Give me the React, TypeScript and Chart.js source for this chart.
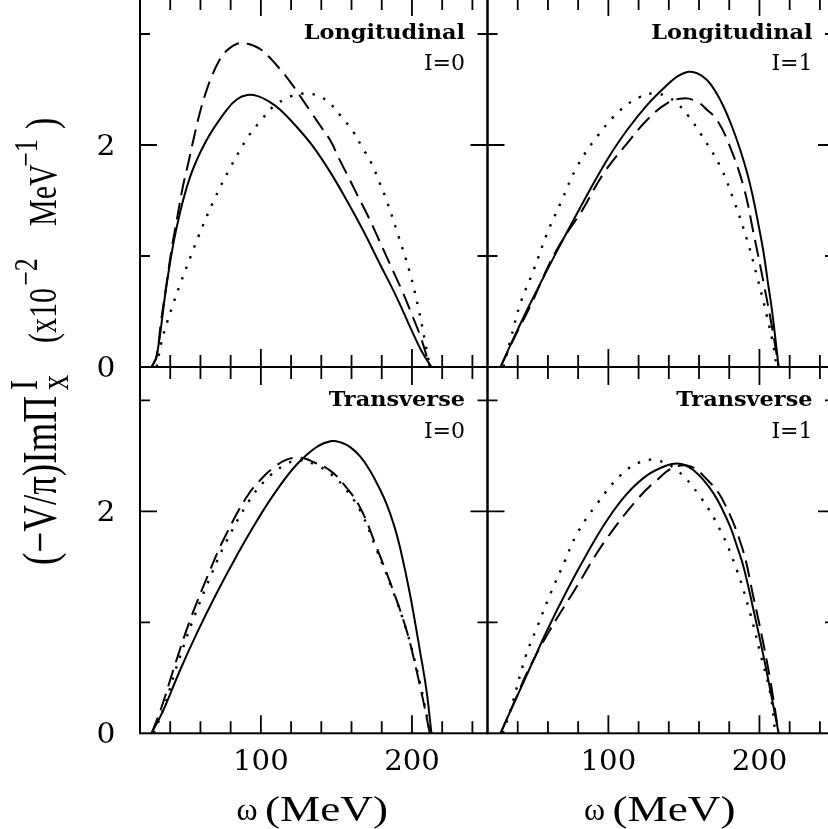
import React, { useEffect, useRef } from 'react';
import { Chart, registerables } from 'chart.js';
Chart.register(...registerables);

// ---------- data: omega (MeV) and (-V/pi) Im Pi (x10^-2 MeV^-1) ----------
// Longitudinal, I=0
const L0_SOLID_W = [27.7, 31, 37.7, 44.3, 53.1, 64.1, 77.3, 84, 91, 98, 105, 112.6, 123.6, 134.6, 145.7, 156.7, 167.7, 178.7, 189.8, 200.8, 206.5, 212.9];
const L0_SOLID_V = [0, 0.093, 0.75, 1.26, 1.71, 2.045, 2.315, 2.41, 2.45, 2.44, 2.395, 2.32, 2.165, 1.985, 1.76, 1.505, 1.23, 0.93, 0.63, 0.3, 0.14, 0];
const L0_DASH_W = [27.7, 31, 34, 37.7, 41, 44.3, 48, 52, 56, 60, 64, 68, 72, 76, 80, 84, 88, 92, 96, 100, 105, 110, 116, 122, 128, 134, 140, 146, 152, 158, 164, 170, 176, 182, 188, 194, 200, 206, 211.8];
const L0_DASH_V = [0, 0.1, 0.42, 0.76, 1.07, 1.32, 1.6, 1.84, 2.085, 2.31, 2.49, 2.635, 2.75, 2.83, 2.88, 2.91, 2.92, 2.91, 2.89, 2.86, 2.8, 2.725, 2.63, 2.52, 2.4, 2.28, 2.16, 2.04, 1.87, 1.71, 1.545, 1.385, 1.21, 1.03, 0.85, 0.67, 0.47, 0.26, 0];
const L0_DOT_W = [31, 34.3, 37.6, 42, 46.4, 54.2, 58.5, 68.5, 79.5, 91.6, 100, 108.2, 119.2, 126, 133.5, 140, 145.7, 153, 161.1, 167, 173.2, 178, 183.1, 190.8, 198.6, 204.1, 208.5, 211.8];
const L0_DOT_V = [0, 0.23, 0.39, 0.57, 0.74, 1.02, 1.17, 1.49, 1.79, 2.075, 2.22, 2.345, 2.435, 2.46, 2.46, 2.43, 2.375, 2.26, 2.12, 1.98, 1.835, 1.68, 1.505, 1.19, 0.85, 0.54, 0.24, 0];

// Longitudinal, I=1
const L1_SOLID_W = [28.6, 38, 48.4, 63.9, 81.5, 99.1, 112.4, 125.6, 138.8, 146, 153.2, 159, 165.3, 171, 176.3, 182, 187.3, 192, 196.1, 199.5, 202.8, 205.5, 208.3, 212.7];
const L1_SOLID_V = [0, 0.28, 0.574, 0.99, 1.44, 1.865, 2.135, 2.36, 2.54, 2.62, 2.66, 2.645, 2.585, 2.48, 2.345, 2.16, 1.955, 1.74, 1.505, 1.27, 1.025, 0.77, 0.51, 0];
const L1_DASH_W = [28.6, 38, 48.4, 61.7, 72.7, 81.5, 96.9, 112.4, 125.6, 138.8, 149.8, 158.7, 165, 171.9, 179.6, 189.5, 196.1, 202.8, 208.3, 212.7];
const L1_DASH_V = [0, 0.27, 0.55, 0.95, 1.21, 1.385, 1.745, 2.015, 2.225, 2.375, 2.42, 2.39, 2.32, 2.225, 2.015, 1.625, 1.205, 0.755, 0.36, 0];
const L1_DOT_W = [30.5, 35.2, 41.8, 50.6, 59.5, 68.3, 79.3, 92.5, 108, 121.2, 130, 138, 145.5, 153, 160.9, 174.1, 182.9, 191.8, 198.4, 205, 209.4, 211.3];
const L1_DOT_V = [0, 0.245, 0.574, 0.875, 1.205, 1.475, 1.805, 2.075, 2.315, 2.435, 2.465, 2.44, 2.375, 2.26, 2.105, 1.805, 1.505, 1.145, 0.815, 0.455, 0.18, 0];

// Transverse, I=0
const T0_SOLID_W = [27.7, 35.4, 46.5, 57.5, 70.7, 83.9, 97.2, 110.4, 123.6, 136.9, 146.8, 153, 158.9, 166, 172.1, 178, 183.1, 188, 192, 198.6, 205.2, 209.6, 212.9];
const T0_SOLID_V = [0, 0.207, 0.568, 0.898, 1.261, 1.598, 1.911, 2.188, 2.419, 2.579, 2.633, 2.62, 2.58, 2.49, 2.37, 2.22, 2.07, 1.88, 1.68, 1.26, 0.75, 0.387, 0];
const T0_DASH_W = [27.7, 34.3, 42, 53.1, 66.3, 75.1, 90.6, 101.5, 110, 117, 123.6, 129, 134.6, 145.7, 154.5, 165.5, 176.5, 187.5, 196.4, 203, 207.4, 211.8];
const T0_DASH_V = [0, 0.237, 0.568, 1.018, 1.468, 1.739, 2.129, 2.309, 2.41, 2.466, 2.484, 2.475, 2.444, 2.369, 2.249, 2.039, 1.678, 1.288, 0.928, 0.568, 0.297, 0];
const T0_DOT_W = [29, 36, 43.5, 54.5, 67.5, 76.5, 92, 103, 116, 126, 136, 146, 155, 166, 177, 188, 197, 203.5, 208, 212];
const T0_DOT_V = [0, 0.237, 0.568, 1.0, 1.44, 1.71, 2.09, 2.28, 2.42, 2.46, 2.42, 2.34, 2.22, 2.0, 1.64, 1.26, 0.9, 0.56, 0.28, 0];

// Transverse, I=1
const T1_SOLID_W = [28.6, 37.4, 48.4, 59.5, 72.7, 85.9, 99.1, 112.4, 125.6, 138.8, 145.5, 151, 156.4, 163, 169.7, 175, 180.7, 185, 189.5, 196.1, 202.8, 207.2, 212.7];
const T1_SOLID_V = [0, 0.268, 0.597, 0.928, 1.288, 1.619, 1.919, 2.159, 2.324, 2.414, 2.43, 2.415, 2.369, 2.28, 2.159, 2.03, 1.859, 1.69, 1.498, 1.108, 0.687, 0.387, 0];
const T1_DASH_W = [28.6, 39.6, 46.3, 60, 78.2, 96.9, 119, 132, 143.2, 154.3, 165, 175.2, 188.4, 196.1, 201.7, 207.2, 212.7];
const T1_DASH_V = [0, 0.34, 0.55, 0.9, 1.303, 1.715, 2.105, 2.28, 2.394, 2.405, 2.29, 2.114, 1.678, 1.222, 0.868, 0.477, 0];
const T1_DOT_W = [30, 35.2, 45.1, 52.9, 61.7, 70.5, 79.3, 92.6, 108, 121.2, 132.2, 145.5, 160.9, 174.1, 185.1, 193.9, 200.6, 207.2, 210.5];
const T1_DOT_V = [0, 0.207, 0.687, 0.958, 1.259, 1.53, 1.799, 2.069, 2.324, 2.444, 2.459, 2.369, 2.129, 1.829, 1.468, 1.078, 0.718, 0.357, 0];

// ---------- axes / text ----------
const X_MIN = 20;
const X_MAX = 250;
const X_TICKS = [40, 60, 80, 100, 120, 140, 160, 180, 200, 220, 240];
const X_LABELS = [100, 200];
const Y_TICKS = [1, 2, 3];
const Y_LABELS = [0, 2];
const PANEL_TITLES = ['Longitudinal', 'Longitudinal', 'Transverse', 'Transverse'];
const PANEL_ISOSPIN = ['I=0', 'I=1', 'I=0', 'I=1'];
const X_TITLE_SYMBOL = 'ω';
const X_TITLE_UNIT = '(MeV)';
const Y_TITLE_RUNS: [string, string][] = [
  ['(−V/π)ImΠ', 'main'],
  ['I', 'sup'],
  ['x', 'sub'],
  ['(x10', 'main2'],
  ['−2', 'sup2'],
  ['MeV', 'main2'],
  ['−1', 'sup2'],
  [')', 'paren'],
];

// ---------- layout (canvas pixels) ----------
const CW = 840;
const CH = 845;
const OFF = 5; // canvas is shifted up by OFF px
const PX_PER_UNIT = 111;

type Series = { w: number[]; v: number[]; style: 'solid' | 'dash' | 'dot' };
type Panel = {
  left: number; right: number; top: number; bottom: number;
  series: Series[]; idx: number; col: number; row: number;
};

const mk = (idx: number, col: number, row: number, series: Series[]): Panel => {
  const left = col === 0 ? 140 : 487.5;
  const right = col === 0 ? 487.5 : 835;
  const top = row === 0 ? -2 : 367;
  const bottom = row === 0 ? 367 : 733.3;
  return { left, right, top: top + OFF, bottom: bottom + OFF, series, idx, col, row };
};

const PANELS: Panel[] = [
  mk(0, 0, 0, [
    { w: L0_SOLID_W, v: L0_SOLID_V, style: 'solid' },
    { w: L0_DASH_W, v: L0_DASH_V, style: 'dash' },
    { w: L0_DOT_W, v: L0_DOT_V, style: 'dot' },
  ]),
  mk(1, 1, 0, [
    { w: L1_SOLID_W, v: L1_SOLID_V, style: 'solid' },
    { w: L1_DASH_W, v: L1_DASH_V, style: 'dash' },
    { w: L1_DOT_W, v: L1_DOT_V, style: 'dot' },
  ]),
  mk(2, 0, 1, [
    { w: T0_SOLID_W, v: T0_SOLID_V, style: 'solid' },
    { w: T0_DASH_W, v: T0_DASH_V, style: 'dash' },
    { w: T0_DOT_W, v: T0_DOT_V, style: 'dot' },
  ]),
  mk(3, 1, 1, [
    { w: T1_SOLID_W, v: T1_SOLID_V, style: 'solid' },
    { w: T1_DASH_W, v: T1_DASH_V, style: 'dash' },
    { w: T1_DOT_W, v: T1_DOT_V, style: 'dot' },
  ]),
];

const SERIF_A = '"DejaVu Serif", serif';
const SERIF_B = '"Liberation Serif", "Times New Roman", serif';

function text(ctx: CanvasRenderingContext2D, s: string, x: number, y: number, font: string, align: CanvasTextAlign, sx: number) {
  ctx.save();
  ctx.font = font;
  ctx.textAlign = align;
  ctx.textBaseline = 'alphabetic';
  ctx.translate(x, y);
  ctx.scale(sx, 1);
  ctx.fillText(s, 0, 0);
  ctx.restore();
}

function drawYTitle(ctx: CanvasRenderingContext2D) {
  const SX = 1.3;
  const baseX = 56;
  const starts = [565, 390, 390, 343, 286, 226, 167, 129];
  const fonts: Record<string, string> = {
    main: `37px ${SERIF_B}`,
    sup: `30px ${SERIF_B}`,
    sub: `30px ${SERIF_B}`,
    main2: `30px ${SERIF_B}`,
    sup2: `26px ${SERIF_B}`,
    paren: `34px ${SERIF_B}`,
  };
  const shifts: Record<string, number> = { main: 0, sup: 15, sub: -9, main2: 0, sup2: 15, paren: 0 };
  Y_TITLE_RUNS.forEach(([s, role], i) => {
    ctx.save();
    ctx.font = fonts[role];
    ctx.textAlign = 'left';
    ctx.textBaseline = 'alphabetic';
    ctx.fillStyle = '#000';
    ctx.translate(baseX, starts[i] + OFF);
    ctx.scale(SX, 1);
    ctx.rotate(-Math.PI / 2);
    ctx.fillText(s, 0, -shifts[role]);
    ctx.restore();
  });
}

const decor = (p: Panel) => ({
  id: 'decor' + p.idx,
  afterDraw(chart: any) {
    const ctx: CanvasRenderingContext2D = chart.ctx;
    const a = chart.chartArea;
    const xs = chart.scales.x;
    const ys = chart.scales.y;
    ctx.save();
    ctx.strokeStyle = '#000';
    ctx.fillStyle = '#000';
    ctx.lineWidth = 2;
    ctx.strokeRect(a.left, a.top, a.right - a.left, a.bottom - a.top);
    ctx.lineWidth = 1.8;
    ctx.beginPath();
    X_TICKS.forEach((t) => {
      const x = xs.getPixelForValue(t);
      const len = X_LABELS.includes(t) ? 18 : 12;
      ctx.moveTo(x, a.bottom);
      ctx.lineTo(x, a.bottom - len);
      ctx.moveTo(x, a.top);
      ctx.lineTo(x, a.top + len);
    });
    Y_TICKS.forEach((t) => {
      const y = ys.getPixelForValue(t);
      const len = Y_LABELS.includes(t) ? 17 : 10;
      ctx.moveTo(a.left, y);
      ctx.lineTo(a.left + len, y);
      ctx.moveTo(a.right, y);
      ctx.lineTo(a.right - len, y);
    });
    ctx.stroke();

    // panel labels
    const rx = p.left + 325;
    const by1 = (p.row === 0 ? 39 : 406) + OFF;
    const by2 = (p.row === 0 ? 70 : 438) + OFF;
    text(ctx, PANEL_TITLES[p.idx], rx, by1, `bold 20px ${SERIF_A}`, 'right', 1.12);
    text(ctx, PANEL_ISOSPIN[p.idx], rx, by2, `22px ${SERIF_A}`, 'right', 1.0);

    // y tick labels
    if (p.col === 0) {
      Y_LABELS.forEach((t) => {
        const y = ys.getPixelForValue(t);
        text(ctx, String(t), 106, y + 10, `27px ${SERIF_A}`, 'center', 1.1);
      });
    }
    // x tick labels + title
    if (p.row === 1) {
      X_LABELS.forEach((t) => {
        const x = xs.getPixelForValue(t);
        text(ctx, String(t), x, 770 + OFF, `27px ${SERIF_A}`, 'center', 1.08);
      });
      text(ctx, X_TITLE_SYMBOL, p.left + 107, 820 + OFF, `32px ${SERIF_B}`, 'center', 1.0);
      ctx.save();
      ctx.font = `35px ${SERIF_B}`;
      const w = ctx.measureText(X_TITLE_UNIT).width;
      ctx.restore();
      text(ctx, X_TITLE_UNIT, p.left + 125, 821 + OFF, `35px ${SERIF_B}`, 'left', 123 / w);
    }
    if (p.idx === 0) drawYTitle(ctx);
    ctx.restore();
  },
});

function buildConfig(p: Panel): any {
  const ymax = (p.bottom - p.top) / PX_PER_UNIT;
  return {
    type: 'line',
    data: {
      datasets: p.series.map((s) => ({
        data: s.w.map((w, i) => ({ x: w, y: s.v[i] })),
        borderColor: '#000',
        borderWidth: s.style === 'dot' ? 2.4 : 2,
        borderDash: s.style === 'dash' ? [17, 8] : s.style === 'dot' ? [2.4, 9] : [],
        borderCapStyle: 'butt',
        pointRadius: 0,
        fill: false,
        tension: 0.4,
      })),
    },
    options: {
      responsive: false,
      animation: false,
      devicePixelRatio: 1,
      events: [],
      layout: {
        padding: { left: p.left, top: p.top, right: CW - p.right, bottom: CH - p.bottom },
      },
      scales: {
        x: { type: 'linear', min: X_MIN, max: X_MAX, display: false },
        y: { type: 'linear', min: 0, max: ymax, display: false },
      },
      plugins: { legend: { display: false }, tooltip: { enabled: false } },
    },
    plugins: [decor(p)],
  };
}

export default function App() {
  const r0 = useRef<HTMLCanvasElement>(null);
  const r1 = useRef<HTMLCanvasElement>(null);
  const r2 = useRef<HTMLCanvasElement>(null);
  const r3 = useRef<HTMLCanvasElement>(null);
  const refs = [r0, r1, r2, r3];
  useEffect(() => {
    const charts = PANELS.map((p, i) => new Chart(refs[i].current as HTMLCanvasElement, buildConfig(p)));
    return () => charts.forEach((c) => c.destroy());
  }, []);
  return (
    <div style={{ position: 'fixed', left: 0, top: 0, width: 828, height: 829, overflow: 'hidden', background: '#fff' }}>
      {PANELS.map((p, i) => (
        <canvas
          key={i}
          ref={refs[i]}
          width={CW}
          height={CH}
          style={{ position: 'absolute', left: 0, top: -OFF, width: CW, height: CH }}
        />
      ))}
    </div>
  );
}
